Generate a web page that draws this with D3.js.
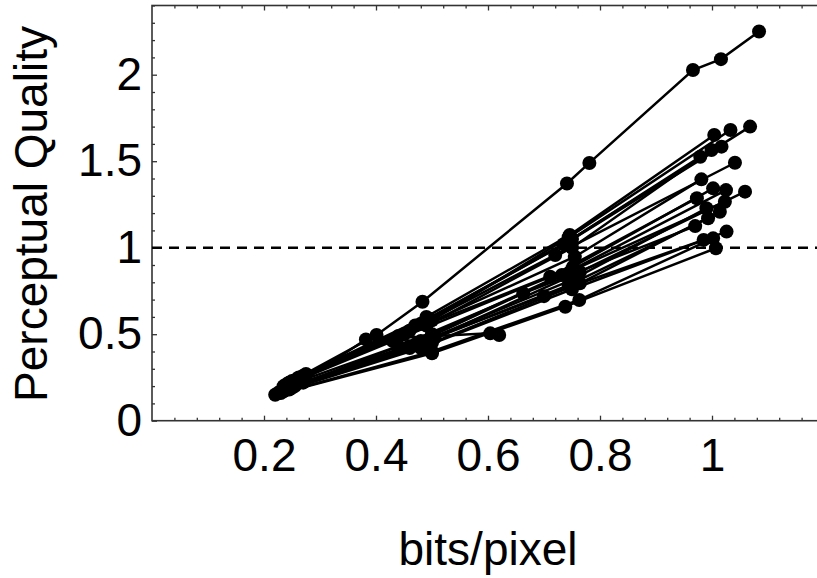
<!DOCTYPE html>
<html>
<head>
<meta charset="utf-8">
<script src="https://cdn.jsdelivr.net/npm/d3@7"></script>
<style>
    body { margin: 0; background: #ffffff; }
    svg { display: block; font-family: "Liberation Sans", Arial, Helvetica, sans-serif; }
</style>
</head>
<body>
<svg id="svg" width="817" height="578"></svg>
<script>
//Data: one list of [bits/pixel, quality] points per image
const TOP_SERIES = [[0.245, 0.22], [0.401, 0.495], [0.483, 0.688], [0.741, 1.371], [0.781, 1.49], [0.966, 2.027], [1.016, 2.09], [1.084, 2.25]];
const SERIES = [
    [[0.262, 0.25], [0.49, 0.60], [0.746, 1.073], [1.004, 1.652]],
    [[0.270, 0.26], [0.50, 0.58], [0.744, 1.060], [1.033, 1.680]],
    [[0.275, 0.27], [0.495, 0.59], [0.750, 1.050], [1.068, 1.700]],
    [[0.258, 0.24], [0.48, 0.56], [0.744, 1.035], [1.017, 1.584]],
    [[0.250, 0.23], [0.47, 0.55], [0.735, 1.020], [0.979, 1.526]],
    [[0.260, 0.24], [0.49, 0.55], [0.750, 1.000], [0.999, 1.565]],
    [[0.255, 0.23], [0.46, 0.52], [0.720, 0.958], [1.041, 1.491]],
    [[0.245, 0.22], [0.45, 0.50], [0.755, 0.948], [0.981, 1.395]],
    [[0.240, 0.21], [0.44, 0.49], [0.752, 0.890], [1.002, 1.343]],
    [[0.265, 0.23], [0.50, 0.50], [0.749, 0.870], [1.025, 1.333]],
    [[0.270, 0.22], [0.505, 0.48], [0.764, 0.860], [1.059, 1.324]],
    [[0.235, 0.20], [0.43, 0.46], [0.711, 0.832], [0.973, 1.286]],
    [[0.250, 0.20], [0.48, 0.46], [0.732, 0.842], [1.023, 1.266]],
    [[0.240, 0.19], [0.47, 0.44], [0.749, 0.813], [0.990, 1.228]],
    [[0.255, 0.20], [0.50, 0.45], [0.764, 0.794], [1.014, 1.208]],
    [[0.230, 0.17], [0.46, 0.42], [0.744, 0.784], [0.993, 1.170]],
    [[0.225, 0.16], [0.44, 0.43], [0.663, 0.736], [0.970, 1.125]],
    [[0.235, 0.17], [0.48, 0.42], [0.750, 0.760], [1.026, 1.093]],
    [[0.220, 0.15], [0.50, 0.39], [0.738, 0.659], [1.007, 0.997]],
    [[0.230, 0.16], [0.50, 0.40], [0.763, 0.698], [1.002, 1.054]],
    [[0.245, 0.18], [0.46, 0.43], [0.700, 0.720], [0.985, 1.045]],
    [[0.250, 0.19], [0.382, 0.47], [0.604, 0.505], [0.620, 0.495]]
];
const X_TICKS = [0.2, 0.4, 0.6, 0.8, 1];
const X_TICK_LABELS = ["0.2", "0.4", "0.6", "0.8", "1"];
const Y_TICKS = [0, 0.5, 1, 1.5, 2];
const Y_TICK_LABELS = ["0", "0.5", "1", "1.5", "2"];
const REFERENCE_LEVEL = 1;
const X_LABEL = "bits/pixel";
const Y_LABEL = "Perceptual Quality";

//Layout
const LEFT = 152;
const RIGHT = 824;
const TOP = 5.5;
const BOTTOM = 420.7;
const RADIUS = 7;
const FONT_SIZE = 46;

window.addEventListener("load", main);

function main()
{
    let svg = d3.select("svg");

    //Scales
    let x_scale = d3.scaleLinear().domain([0, 1.2]).range([LEFT, RIGHT]);
    let y_scale = d3.scaleLinear().domain([0, 2.4]).range([BOTTOM, TOP]);

    let x_minor = d3.range(0, 1.2001, 0.04).filter(v => Math.abs(v / 0.2 - Math.round(v / 0.2)) > 0.01);
    let y_minor = d3.range(0, 2.4001, 0.1).filter(v => Math.abs(v / 0.5 - Math.round(v / 0.5)) > 0.01);

    //Minor ticks (bottom, top, left)
    svg.append("g").attr("transform", "translate(0," + BOTTOM + ")")
        .call(d3.axisBottom(x_scale).tickValues(x_minor).tickSize(-3).tickFormat(""));
    svg.append("g").attr("transform", "translate(0," + TOP + ")")
        .call(d3.axisTop(x_scale).tickValues(x_minor).tickSize(-3).tickFormat(""));
    svg.append("g").attr("transform", "translate(" + LEFT + ",0)")
        .call(d3.axisLeft(y_scale).tickValues(y_minor).tickSize(-3).tickFormat(""));

    //Major ticks with labels
    svg.append("g").attr("class", "xaxis").attr("transform", "translate(0," + BOTTOM + ")")
        .call(d3.axisBottom(x_scale).tickValues(X_TICKS.concat([1.2])).tickSize(-5).tickPadding(18)
            .tickFormat((d, i) => i < X_TICK_LABELS.length ? X_TICK_LABELS[i] : ""));
    svg.append("g").attr("transform", "translate(0," + TOP + ")")
        .call(d3.axisTop(x_scale).tickValues(X_TICKS.concat([1.2])).tickSize(-5).tickFormat(""));
    svg.append("g").attr("class", "yaxis").attr("transform", "translate(" + LEFT + ",0)")
        .call(d3.axisLeft(y_scale).tickValues(Y_TICKS).tickSize(-5).tickPadding(10)
            .tickFormat((d, i) => Y_TICK_LABELS[i]));

    svg.selectAll(".domain").remove();
    svg.selectAll(".tick line").attr("stroke", "#333").attr("stroke-width", 1.3);
    svg.selectAll(".xaxis text, .yaxis text")
        .attr("font-size", FONT_SIZE)
        .attr("font-family", "Liberation Sans, Arial, sans-serif")
        .attr("fill", "#000");

    //Frame
    svg.append("rect")
        .attr("x", LEFT).attr("y", TOP)
        .attr("width", RIGHT - LEFT).attr("height", BOTTOM - TOP)
        .attr("fill", "none").attr("stroke", "#333").attr("stroke-width", 1.6);

    //Reference level
    svg.append("line")
        .attr("x1", LEFT).attr("x2", RIGHT)
        .attr("y1", y_scale(REFERENCE_LEVEL)).attr("y2", y_scale(REFERENCE_LEVEL))
        .attr("stroke", "#000").attr("stroke-width", 2.6)
        .attr("stroke-dasharray", "10,7");

    //Series lines and points
    let all_series = SERIES.concat([TOP_SERIES]);
    let line = d3.line().x(p => x_scale(p[0])).y(p => y_scale(p[1]));

    svg.append("g").selectAll("path")
        .data(all_series)
        .enter().append("path")
        .attr("d", line)
        .attr("fill", "none")
        .attr("stroke", "#000")
        .attr("stroke-width", 2.5);

    svg.append("g").selectAll("circle")
        .data(all_series.flat())
        .enter().append("circle")
        .attr("cx", p => x_scale(p[0]))
        .attr("cy", p => y_scale(p[1]))
        .attr("r", RADIUS)
        .attr("fill", "#000");

    //Axis titles
    svg.append("text")
        .attr("x", (LEFT + RIGHT) / 2)
        .attr("y", 565)
        .attr("text-anchor", "middle")
        .attr("font-size", 46)
        .text(X_LABEL);

    svg.append("text")
        .attr("transform", "translate(47,214) rotate(-90)")
        .attr("text-anchor", "middle")
        .attr("font-size", 46)
        .text(Y_LABEL);
}
</script>
</body>
</html>
